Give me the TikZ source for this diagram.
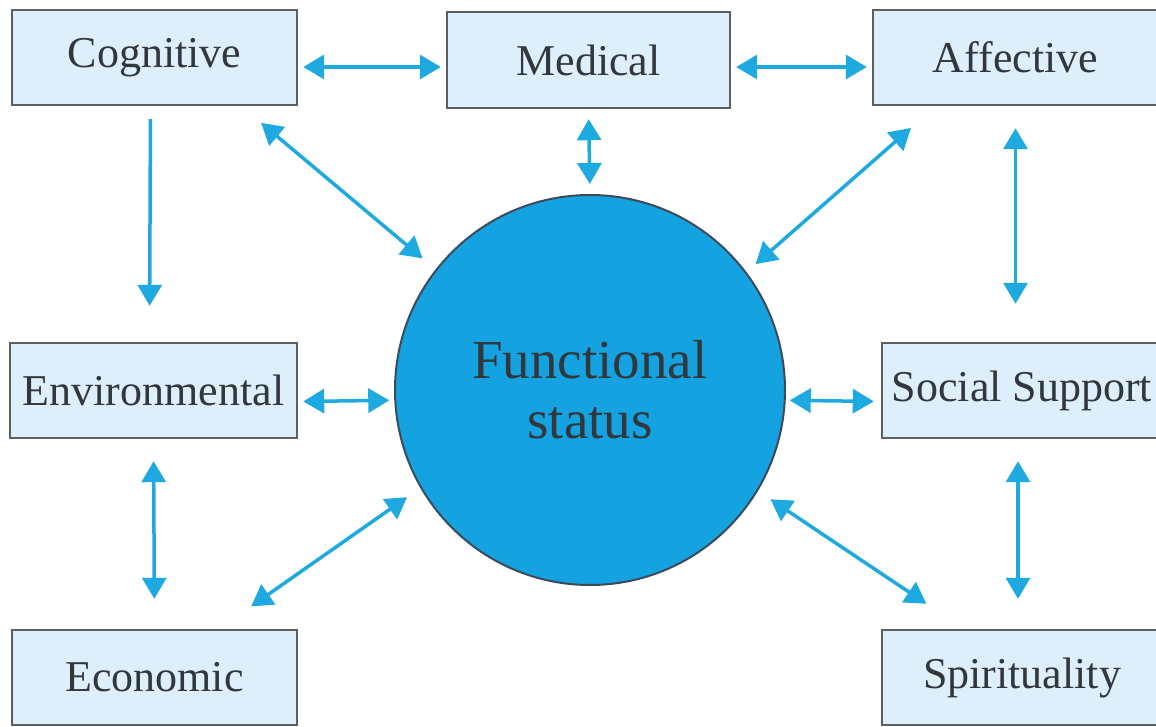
\documentclass[tikz,border=0pt]{standalone}
\usepackage{fontspec}
\setmainfont{Liberation Serif}
\usetikzlibrary{arrows.meta}

\definecolor{arrowblue}{RGB}{30,170,225}
\definecolor{circblue}{RGB}{20,162,225}
\definecolor{boxfill}{RGB}{221,239,250}
\definecolor{boxgray}{RGB}{95,95,95}
\definecolor{txt}{RGB}{50,55,60}

\begin{document}
\begin{tikzpicture}[x=1pt,y=-1pt]
		\tikzset{box/.style = {draw=boxgray, line width=2.4pt, fill=boxfill, minimum width=285pt, minimum height=95pt, inner sep=0pt, text=txt, font=\fontsize{44}{50}\selectfont}}
		\tikzset{link/.style = {<->, >={Triangle[length=21pt,width=24pt]}, draw=arrowblue, line width=3.5pt, shorten <=5pt, shorten >=5pt}}

		\clip (0,0) rectangle (1156,726);
		\fill[white] (0,0) rectangle (1156,726);

		\node[box] (Cog) at (154.5,57.5) {Cognitive};
		\node[box, minimum width=283pt, minimum height=96pt] (Med) at (588.5,60) {Medical};
		\node[box] (Aff) at (1015.5,57.5) {Affective};
		\node[box, minimum width=287pt] (Env) at (153.5,390.5) {Environmental};
		\node[box, minimum width=280pt] (Soc) at (1022,390.5) {Social Support};
		\node[box] (Eco) at (154.5,677.5) {Economic};
		\node[box, minimum width=280pt] (Spi) at (1022,677.5) {Spirituality};

		\node[circle, draw={rgb,255:red,60;green,75;blue,90}, line width=2pt, fill=circblue, minimum size=390pt, inner sep=0pt, text=txt, align=center, font=\fontsize{55}{60}\selectfont] (Fun) at (590,390) {Functional\\status};


		\draw[link] ([yshift=-9.5pt]Cog.east) -- ([yshift=-7pt]Med.west);
		\draw[link] ([yshift=-7pt]Med.east) -- ([yshift=-9.5pt]Aff.west);
		\draw[link, <-, shorten <=36pt, shorten >=13pt] ([xshift=-4pt]Env.north) -- ([xshift=-4pt]Cog.south);
		\draw[link, shorten <=26pt, shorten >=17pt] ([xshift=-57pt]Cog.south east) -- (Fun.142.7);
		\draw[link, shorten <=10pt, shorten >=10pt] (Med.south) -- (Fun.north);
		\draw[link, shorten <=33pt, shorten >=12pt] ([xshift=64pt]Aff.south west) -- (Fun.37.1);
		\draw[link, shorten <=22pt, shorten >=38pt] (Aff.south) -- (Aff.south |- Soc.north);


		\draw[link] ([yshift=-11pt]Env.east) -- (Fun.183.5);
		\draw[link, shorten <=4pt, shorten >=7pt] (Fun.-3.5) -- ([yshift=-11pt]Soc.west);


		\draw[link, shorten <=22pt, shorten >=30pt] (Env.south) -- (Eco.north);
		\draw[link, shorten <=39pt, shorten >=16pt] ([xshift=-79pt]Eco.north east) -- (Fun.210.7);
		\draw[link, shorten <=45pt, shorten >=15pt] ([xshift=83pt]Spi.north west) -- (Fun.-31);
		\draw[link, shorten <=22pt, shorten >=30pt] ([xshift=-4pt]Soc.south) -- ([xshift=-4pt]Spi.north);

	\end{tikzpicture}
\end{document}
